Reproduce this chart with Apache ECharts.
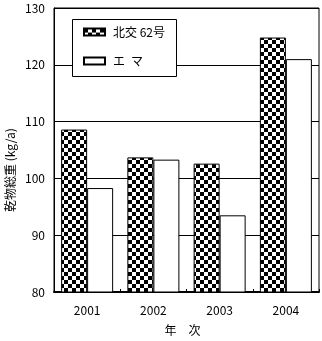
<!DOCTYPE html>
<html><head><meta charset="utf-8">
<script src="https://cdn.jsdelivr.net/npm/echarts@6/dist/echarts.min.js"></script>
<style>html,body{margin:0;padding:0;background:#fff}#c{width:322px;height:341px}</style>
</head><body><div id="c"></div>
<script>
var categories = ['2001', '2002', '2003', '2004'];
var seriesNames = ['北交 62号', 'エ\u2002マ'];
var hokko62 = [108.6, 103.7, 102.6, 124.8];
var ema = [98.3, 103.3, 93.5, 121.0];
var yTicks = [80, 90, 100, 110, 120, 130];

var pc = document.createElement('canvas');
pc.width = 8; pc.height = 8;
var g = pc.getContext('2d');
g.fillStyle = '#fff'; g.fillRect(0,0,8,8);
g.fillStyle = '#000'; g.fillRect(0,0,4,4); g.fillRect(4,4,4,4);

var font = '"Noto Sans CJK JP", sans-serif';
var chart = echarts.init(document.getElementById('c'), null, {renderer:'canvas'});
chart.setOption({
  animation: false,
  backgroundColor: '#fff',
  textStyle: {fontFamily: font},
  grid: {left: 54, right: 3, top: 8, bottom: 47, show: true, borderColor: '#000', borderWidth: 1, backgroundColor: 'transparent'},
  xAxis: {
    type: 'category', data: categories,
    axisLine: {lineStyle: {color: '#000', width: 2}},
    axisTick: {show: true, inside: true, length: 3, lineStyle: {color: '#000'}},
    axisLabel: {color: '#000', fontSize: 12, margin: 12, fontFamily: font},
    name: '年\u3000次', nameLocation: 'middle', nameGap: 32,
    nameTextStyle: {color: '#000', fontSize: 12, fontFamily: font, padding: [0, 8, 0, 0]}
  },
  yAxis: {
    type: 'value', min: yTicks[0], max: yTicks[yTicks.length-1], interval: 10,
    axisLine: {show: true, lineStyle: {color: '#000', width: 1}},
    axisTick: {show: false},
    axisLabel: {color: '#000', fontSize: 12, margin: 9, fontFamily: font},
    splitLine: {show: true, lineStyle: {color: '#000', width: 1}}
  },
  legend: {
    orient: 'vertical', left: 83, top: 26, padding: 0, itemGap: 17,
    itemWidth: 21, itemHeight: 7, icon: 'rect', z: 6,
    textStyle: {color: '#000', fontSize: 12, fontFamily: font, padding: [0,0,0,3]},
    data: seriesNames
  },
  graphic: [
    {type: 'rect', z: 5, shape: {x: 72.5, y: 19.5, width: 104, height: 57}, style: {fill: '#fff', stroke: '#000', lineWidth: 1}},
    {type: 'text', z: 5, x: 10, y: 170, rotation: Math.PI/2,
     style: {text: '乾物総重 (kg/a)', fill: '#000', font: '12px ' + font, textAlign: 'center', textVerticalAlign: 'middle'}}
  ],
  series: [
    {name: seriesNames[0], type: 'bar', data: hokko62, barWidth: 26, barGap: '0%',
     itemStyle: {color: {image: pc, repeat: 'repeat'}, borderColor: '#000', borderWidth: 1}},
    {name: seriesNames[1], type: 'bar', data: ema, barWidth: 26, barGap: '0%',
     itemStyle: {color: '#fff', borderColor: '#000', borderWidth: 1}}
  ]
});
</script></body></html>
